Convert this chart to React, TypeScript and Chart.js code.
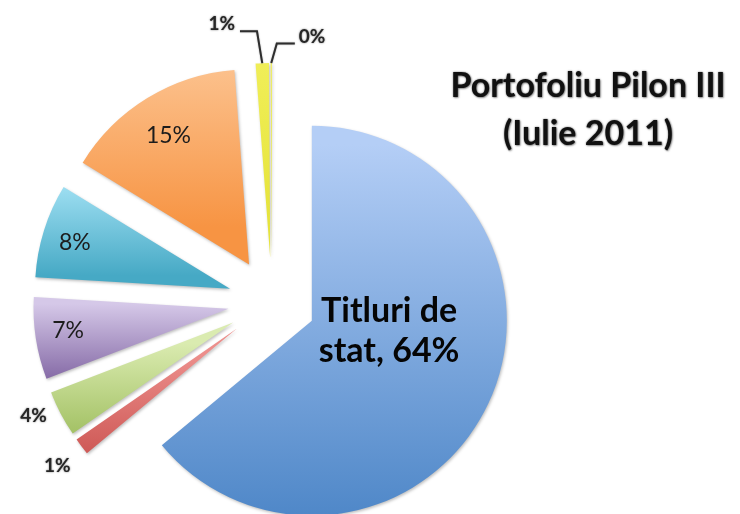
import React, { useEffect, useRef } from "react";
import { Chart, registerables } from "chart.js";

Chart.register(...registerables);

// ---- data ----
const categories = [
  "Titluri de stat",
  "Obligațiuni municipale",
  "Obligațiuni corporative",
  "Depozite bancare",
  "Acțiuni",
  "Titluri OPCVM",
  "Obligațiuni externe",
  "Alte active",
];
const values = [64.1, 1.4, 3.8, 6.8, 7.8, 15.1, 1.1, 0.1];
const showName = [true, false, false, false, false, false, false, false];
const titleLines = ["Portofoliu Pilon III", "(Iulie 2011)"];

// ---- styles ----
const topColors = ["#B4CEF6", "#EC8E8B", "#DAEBB0", "#D5C8E8", "#AAE6F8", "#FDCB9D", "#F3F160", "#F3F160"];
const bottomColors = ["#4A84C6", "#C64B48", "#97B854", "#7F63A1", "#46A9C5", "#F79443", "#E6E43C", "#E6E43C"];
const RADIUS = 195;
const EXPLODE = 44;
const FONT = "Lato, 'Open Sans', sans-serif";

type Place = { kind: string; frac: number; r?: number; elbowR?: number; elbowDeg?: number; run?: number };
const labelPlacement: Place[] = [
  { kind: "name", frac: 0.425, r: 0.4 },
  { kind: "outside", frac: 0.45, r: 1.16 },
  { kind: "outside", frac: 0.7, r: 1.13 },
  { kind: "inside", frac: 0.55, r: 0.83 },
  { kind: "inside", frac: 0.47, r: 0.83 },
  { kind: "inside", frac: 0.49, r: 0.78 },
  { kind: "leader", frac: 0.5, elbowR: 1.165, elbowDeg: -1, run: -17 },
  { kind: "leader", frac: 0.5, elbowR: 1.1, elbowDeg: 1.5, run: 18 },
];

const explodePlugin = {
  id: "explode",
  beforeDatasetDraw(chart: any, args: any) {
    const ctx = chart.ctx as CanvasRenderingContext2D;
    const meta = args.meta;
    meta.data.forEach((arc: any, i: number) => {
      const p = arc.getProps(["x", "y", "startAngle", "endAngle", "outerRadius"], true);
      if (p.endAngle - p.startAngle <= 0) return;
      const mid = (p.startAngle + p.endAngle) / 2;
      const dx = Math.cos(mid) * EXPLODE;
      const dy = Math.sin(mid) * EXPLODE;
      const ys = [p.y, p.y + Math.sin(p.startAngle) * p.outerRadius, p.y + Math.sin(p.endAngle) * p.outerRadius];
      for (let n = -3; n <= 3; n++) {
        const a = Math.PI / 2 + n * Math.PI;
        if (a >= p.startAngle && a <= p.endAngle) ys.push(p.y + Math.sin(a) * p.outerRadius);
      }
      const g = ctx.createLinearGradient(0, Math.min(...ys) + dy, 0, Math.max(...ys) + dy);
      g.addColorStop(0, topColors[i]);
      g.addColorStop(1, bottomColors[i]);
      const el = Object.create(arc);
      el.options = Object.assign({}, arc.options, { backgroundColor: g, offset: 0 });
      ctx.save();
      ctx.shadowColor = "rgba(0,0,0,0.25)";
      ctx.shadowBlur = 3;
      ctx.shadowOffsetX = 1;
      ctx.shadowOffsetY = 1.5;
      ctx.translate(dx, dy);
      el.draw(ctx);
      ctx.restore();
    });
    return false;
  },
};

function wrap(ctx: CanvasRenderingContext2D, text: string, maxW: number) {
  const words = text.split(" ");
  const lines: string[] = [];
  let cur = "";
  for (const w of words) {
    const t = cur ? cur + " " + w : w;
    if (cur && ctx.measureText(t).width > maxW) {
      lines.push(cur);
      cur = w;
    } else cur = t;
  }
  if (cur) lines.push(cur);
  return lines;
}

const labelPlugin = {
  id: "sliceLabels",
  afterDatasetsDraw(chart: any) {
    const ctx = chart.ctx as CanvasRenderingContext2D;
    const meta = chart.getDatasetMeta(0);
    const total = values.reduce((a, b) => a + b, 0);
    meta.data.forEach((arc: any, i: number) => {
      const p = arc.getProps(["x", "y", "startAngle", "endAngle", "outerRadius"], true);
      const mid = (p.startAngle + p.endAngle) / 2;
      const ax = p.x + Math.cos(mid) * EXPLODE;
      const ay = p.y + Math.sin(mid) * EXPLODE;
      const pl = labelPlacement[i];
      const ang = p.startAngle + pl.frac * (p.endAngle - p.startAngle);
      const pct = Math.round((values[i] / total) * 100) + "%";
      const R = p.outerRadius;
      ctx.save();
      ctx.textAlign = "center";
      ctx.textBaseline = "middle";
      if (pl.kind === "name" || pl.kind === "inside") {
        const x = ax + Math.cos(ang) * R * (pl.r as number);
        const y = ay + Math.sin(ang) * R * (pl.r as number);
        if (showName[i]) {
          ctx.font = `bold 34px ${FONT}`;
          ctx.fillStyle = "#050505";
          const lines = wrap(ctx, `${categories[i]}, ${pct}`, 155);
          const lh = 40;
          lines.forEach((ln, k) => ctx.fillText(ln, x, y + (k - (lines.length - 1) / 2) * lh));
        } else {
          ctx.font = `23px ${FONT}`;
          ctx.fillStyle = "#1c1c1c";
          ctx.fillText(pct, x, y);
        }
      } else if (pl.kind === "outside") {
        const x = ax + Math.cos(ang) * R * (pl.r as number);
        const y = ay + Math.sin(ang) * R * (pl.r as number);
        ctx.font = `bold 19px ${FONT}`;
        ctx.fillStyle = "#262626";
        ctx.shadowColor = "rgba(0,0,0,0.55)";
        ctx.shadowBlur = 2;
        ctx.fillText(pct, x, y);
      } else if (pl.kind === "leader") {
        const sx = ax + Math.cos(ang) * R;
        const sy = ay + Math.sin(ang) * R;
        const ea = ang + ((pl.elbowDeg as number) * Math.PI) / 180;
        const ex = ax + Math.cos(ea) * R * (pl.elbowR as number);
        const ey = ay + Math.sin(ea) * R * (pl.elbowR as number);
        const run = pl.run as number;
        ctx.strokeStyle = "#2e2e2e";
        ctx.lineWidth = 2;
        ctx.shadowColor = "rgba(0,0,0,0.4)";
        ctx.shadowBlur = 1.5;
        ctx.beginPath();
        ctx.moveTo(sx, sy);
        ctx.lineTo(ex, ey);
        ctx.lineTo(ex + run, ey);
        ctx.stroke();
        ctx.font = `bold 19px ${FONT}`;
        ctx.fillStyle = "#262626";
        ctx.shadowColor = "rgba(0,0,0,0.55)";
        ctx.shadowBlur = 2;
        ctx.textAlign = run < 0 ? "right" : "left";
        ctx.fillText(pct, ex + run + (run < 0 ? -5 : 4), ey - 7);
      }
      ctx.restore();
    });
  },
};

export default function App() {
  const ref = useRef<HTMLCanvasElement>(null);
  useEffect(() => {
    const canvas = ref.current as HTMLCanvasElement;
    const chart = new Chart(canvas, {
      type: "pie",
      data: {
        labels: categories,
        datasets: [
          {
            data: values,
            backgroundColor: bottomColors,
            borderWidth: 0,
            clip: false,
          } as any,
        ],
      },
      options: {
        responsive: false,
        animation: false,
        radius: RADIUS,
        layout: { padding: { left: 0, right: 196, top: 90, bottom: 0 } },
        plugins: {
          legend: { display: false },
          title: { display: false },
          tooltip: { enabled: true },
        },
      } as any,
      plugins: [explodePlugin, labelPlugin],
    });
    return () => chart.destroy();
  }, []);
  return (
    <div style={{ position: "absolute", left: 0, top: 0, width: 740, height: 514, background: "#ffffff" }}>
      <canvas ref={ref} width={740} height={514} style={{ display: "block" }} />
      <div
        style={{
          position: "absolute",
          left: 438,
          top: 60,
          width: 300,
          textAlign: "center",
          fontFamily: FONT,
          fontWeight: 700,
          fontSize: 34,
          lineHeight: "48px",
          color: "#111",
          textShadow: "0 0 2px rgba(0,0,0,0.55), 1px 1px 2px rgba(0,0,0,0.35)",
        }}
      >
        {titleLines.map((t) => (
          <div key={t}>{t}</div>
        ))}
      </div>
    </div>
  );
}
